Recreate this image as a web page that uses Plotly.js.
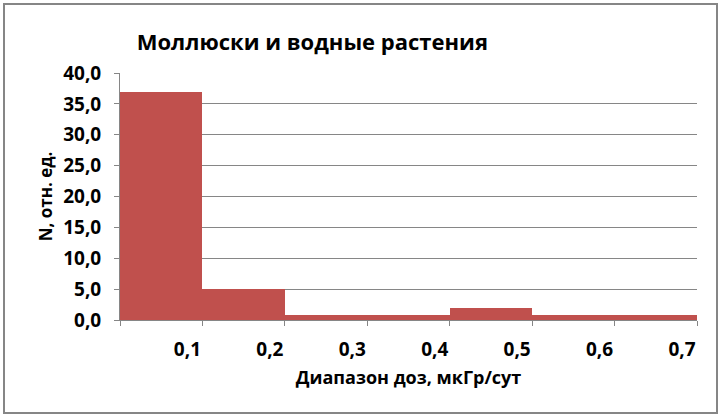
<!DOCTYPE html>
<html><head><meta charset="utf-8">
<script src="https://cdn.plot.ly/plotly-3.0.1.min.js"></script>
<style>
html,body{margin:0;padding:0;background:#fff;}
#wrap{position:relative;width:723px;height:418px;}
#chart{position:absolute;left:0;top:0;width:723px;height:418px;}
#frame{position:absolute;left:3px;top:3px;width:711px;height:407px;border:2px solid #868686;pointer-events:none;}
</style></head>
<body><div id="wrap"><div id="chart"></div><div id="frame"></div></div>
<script>
const binStart = [0, 0.1, 0.2, 0.3, 0.4, 0.5, 0.6];
const binWidth = 0.1;
const counts = [37.0, 5.0, 0.8, 0.8, 1.9, 0.8, 0.8];
const xTickVals = [0, 0.1, 0.2, 0.3, 0.4, 0.5, 0.6, 0.7];
const xTickText = ['', '0,1', '0,2', '0,3', '0,4', '0,5', '0,6', '0,7'];
const titleText = 'Моллюски и водные растения';
const xTitle = 'Диапазон доз, мкГр/сут';
const yTitle = 'N, отн. ед.';

const font = '"Open Sans", Lato, "DejaVu Sans", sans-serif';
Plotly.newPlot('chart', [{
  type: 'bar',
  x: binStart,
  y: counts,
  width: binStart.map(() => binWidth),
  offset: 0,
  marker: {color: '#C0504D', line: {width: 0}},
  hoverinfo: 'skip'
}], {
  width: 723, height: 418,
  margin: {l: 120, r: 26, t: 73, b: 98},
  paper_bgcolor: '#fff', plot_bgcolor: '#fff',
  separators: ', ',
  showlegend: false,
  bargap: 0,
  font: {family: font, color: '#000'},
  title: {text: '<b>' + titleText + '</b>', x: 0.432, xref: 'container', xanchor: 'center',
          y: 0.9, yref: 'container', yanchor: 'middle', font: {size: 22, family: font, color: '#000'}},
  xaxis: {
    range: [0, 0.7], tickmode: 'array', tickvals: xTickVals, ticktext: xTickText,
    ticks: 'outside', ticklen: 5, tickcolor: '#868686', tickwidth: 1,
    showline: true, linecolor: '#868686', linewidth: 1, showgrid: false, zeroline: false,
    ticklabelshift: -15, ticklabelstandoff: 7,
    tickfont: {size: 19, family: font, color: '#000', weight: 'bold'},
    title: {text: '<b>' + xTitle + '</b>', standoff: 10, font: {size: 18, family: font, color: '#000'}}
  },
  yaxis: {
    range: [0, 40], dtick: 5, tick0: 0, tickformat: '.1f',
    ticks: 'outside', ticklen: 5, tickcolor: '#868686', tickwidth: 1,
    showline: true, linecolor: '#868686', linewidth: 1,
    showgrid: true, gridcolor: '#868686', gridwidth: 1, zeroline: false,
    ticklabelstandoff: 9,
    tickfont: {size: 19, family: font, color: '#000', weight: 'bold'},
    title: {text: '<b>' + yTitle + '</b>', standoff: 6, font: {size: 17, family: font, color: '#000'}}
  }
}, {staticPlot: true});
</script></body></html>
